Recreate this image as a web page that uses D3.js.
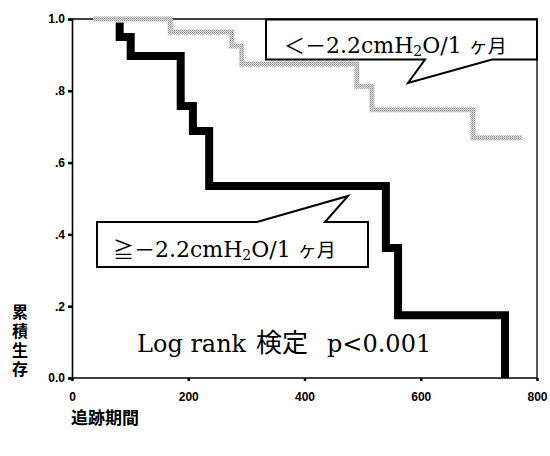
<!DOCTYPE html>
<html>
<head>
<meta charset="utf-8">
<script src="https://cdn.jsdelivr.net/npm/d3@7"></script>
<style>
  body { margin: 0; background: #fff; }
  svg { display: block; }
</style>
</head>
<body>
<svg id="chart" width="550" height="456"></svg>
<script>
// Kaplan-Meier curves (days, cumulative survival)
const lowTimes  = [36, 169, 275, 292, 490, 516, 690, 774];
const lowSurv   = [1.0, 0.964, 0.925, 0.875, 0.813, 0.747, 0.669, 0.669];
const highTimes = [82, 82, 101, 187, 208, 236, 540, 561, 745];
const highSurv  = [0.99, 0.95, 0.897, 0.758, 0.688, 0.535, 0.362, 0.175, 0.0];

const xTicks = [0, 200, 400, 600, 800];
const yTicks = [0, 0.2, 0.4, 0.6, 0.8, 1.0];
const yTickLabels = ['0.0', '.2', '.4', '.6', '.8', '1.0'];

const width = 550, height = 456;
const margin = { top: 19, right: 13, bottom: 78, left: 72 };

const svg = d3.select('#chart');

const x = d3.scaleLinear().domain([0, 800]).range([margin.left, width - margin.right]);
const y = d3.scaleLinear().domain([0, 1]).range([height - margin.bottom, margin.top]);

// stipple for the grey curve
const defs = svg.append('defs');
const pat = defs.append('pattern')
  .attr('id', 'stipple')
  .attr('patternUnits', 'userSpaceOnUse')
  .attr('width', 2).attr('height', 2);
pat.append('rect').attr('width', 2).attr('height', 2).attr('fill', '#dedede');
pat.append('rect').attr('width', 1).attr('height', 1).attr('fill', '#8f8f8f');
pat.append('rect').attr('x', 1).attr('y', 1).attr('width', 1).attr('height', 1).attr('fill', '#b0b0b0');

// frame
svg.append('path')
  .attr('d', `M${x(0)},${y(1)}H${x(800)}V${y(0)}`)
  .attr('fill', 'none')
  .attr('stroke', '#000')
  .attr('stroke-width', 1.3);

// axes
const yAxis = d3.axisLeft(y)
  .tickValues(yTicks)
  .tickFormat((d, i) => yTickLabels[i])
  .tickSize(4)
  .tickPadding(3);

const gy = svg.append('g')
  .attr('transform', `translate(${x(0)},0)`)
  .call(yAxis);
gy.select('.domain').attr('stroke-width', 1.6);
gy.selectAll('.tick line').attr('stroke-width', 2.5);
gy.selectAll('.tick text')
  .attr('font-family', '"Liberation Sans", Arial, sans-serif')
  .attr('font-weight', 'bold')
  .attr('font-size', 12)
  .attr('fill', '#000');

const xAxis = d3.axisBottom(x)
  .tickValues(xTicks)
  .tickSize(3)
  .tickPadding(11);

const gx = svg.append('g')
  .attr('transform', `translate(0,${y(0)})`)
  .call(xAxis);
gx.select('.domain').attr('stroke-width', 1.3).attr('d', `M${x(0)},0H${x(800)}`);
gx.selectAll('.tick line').attr('stroke-width', 2.5);
gx.selectAll('.tick text')
  .attr('font-family', '"Liberation Sans", Arial, sans-serif')
  .attr('font-weight', 'bold')
  .attr('font-size', 12)
  .attr('fill', '#000');

// curves
const step = d3.line()
  .x(d => x(d[0]))
  .y(d => y(d[1]))
  .curve(d3.curveStepAfter);

svg.append('path')
  .datum(d3.zip(lowTimes, lowSurv))
  .attr('d', step)
  .attr('fill', 'none')
  .attr('stroke', 'url(#stipple)')
  .attr('stroke-width', 5);

svg.append('path')
  .datum(d3.zip(highTimes, highSurv))
  .attr('d', step)
  .attr('fill', 'none')
  .attr('stroke', '#000')
  .attr('stroke-width', 8)
  .attr('stroke-linejoin', 'miter');

// callouts
const serif = '"DejaVu Serif", "Liberation Serif", "Noto Sans CJK JP", serif';
const cjk = '"Noto Sans CJK JP", sans-serif';

function callout(d, tx, ty, sym) {
  svg.append('path')
    .attr('d', d)
    .attr('fill', '#fff')
    .attr('stroke', '#000')
    .attr('stroke-width', 2)
    .attr('stroke-linejoin', 'miter');
  const t = svg.append('text')
    .attr('x', tx).attr('y', ty)
    .attr('font-family', serif)
    .attr('font-size', 22)
    .attr('fill', '#000');
  t.append('tspan').attr('font-family', cjk).attr('font-size', 21).text(sym + '－');
  t.append('tspan').text('2.2cmH');
  t.append('tspan').attr('font-size', 14).attr('dy', 3).text('2');
  t.append('tspan').attr('dy', -3).text('O/1 ');
  t.append('tspan').attr('font-family', cjk).attr('font-size', 19).text('ヶ月');
}

callout('M266,19.5H537V59.5H492L408,83L425,59.5H266Z', 284, 53, '＜');
callout('M97,267V222H257L348,196L325,222H368V267Z', 113, 257, '≧');

// log rank note
const note = svg.append('text')
  .attr('x', 137).attr('y', 352)
  .attr('font-family', serif)
  .attr('font-size', 24)
  .attr('fill', '#000');
note.append('tspan').text('Log rank');
note.append('tspan').attr('x', 256).attr('font-family', cjk).attr('font-size', 26).text('検定');
note.append('tspan').attr('x', 327).text('p<0.001');

// axis titles (vertical y title)
svg.append('text')
  .attr('x', 20).attr('y', 304)
  .attr('writing-mode', 'vertical-rl')
  .attr('letter-spacing', 3)
  .attr('font-family', cjk)
  .attr('font-weight', 'bold')
  .attr('font-size', 16)
  .text('累積生存');

svg.append('text')
  .attr('x', 71).attr('y', 424)
  .attr('font-family', cjk)
  .attr('font-weight', 'bold')
  .attr('font-size', 17)
  .text('追跡期間');
</script>
</body>
</html>
